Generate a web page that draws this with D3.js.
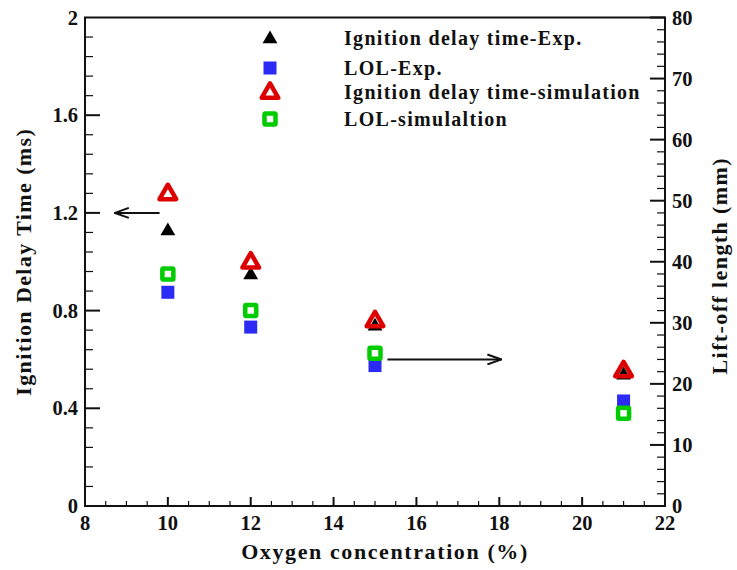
<!DOCTYPE html>
<html>
<head>
<meta charset="utf-8">
<script src="https://cdn.jsdelivr.net/npm/d3@7"></script>
<style>
  html, body { margin: 0; padding: 0; background: #fff; }
  svg text { font-family: "Liberation Serif", "Times New Roman", serif; font-weight: bold; fill: #111; }
</style>
</head>
<body>
<svg id="chart" width="737" height="570"></svg>
<script>
// Oxygen concentration (%)
const oxygen = [10, 12, 15, 21];
// Ignition delay time (ms), left axis
const idtExp = [1.13, 0.95, 0.74, 0.54];
const idtSim = [1.28, 1.00, 0.76, 0.555];
// Lift-off length (mm), right axis
const lolExp = [35, 29.3, 23, 17.2];
const lolSim = [38, 32, 25, 15.2];

const xTicks = [8, 10, 12, 14, 16, 18, 20, 22];
const yLeftTicks = [0, 0.4, 0.8, 1.2, 1.6, 2];
const yRightTicks = [0, 10, 20, 30, 40, 50, 60, 70, 80];

const legendItems = [
  { label: "Ignition delay time-Exp.", kind: "idtExp" },
  { label: "LOL-Exp.", kind: "lolExp" },
  { label: "Ignition delay time-simulation", kind: "idtSim" },
  { label: "LOL-simulaltion", kind: "lolSim" }
];

const svg = d3.select("#chart");
const m = { left: 85, right: 665, top: 17.5, bottom: 506 };

const x = d3.scaleLinear().domain([8, 22]).range([m.left, m.right]);
const yL = d3.scaleLinear().domain([0, 2]).range([m.bottom, m.top]);
const yR = d3.scaleLinear().domain([0, 80]).range([m.bottom, m.top]);

// Frame
svg.append("rect")
  .attr("x", m.left).attr("y", m.top)
  .attr("width", m.right - m.left).attr("height", m.bottom - m.top)
  .attr("fill", "none").attr("stroke", "#111").attr("stroke-width", 2);

const tickG = svg.append("g").attr("stroke", "#111");

// Bottom axis ticks (inward), minor every 0.5
d3.range(8, 22.001, 0.5).forEach(v => {
  const major = Math.abs(v / 2 - Math.round(v / 2)) < 1e-6;
  tickG.append("line")
    .attr("x1", x(v)).attr("x2", x(v))
    .attr("y1", m.bottom).attr("y2", m.bottom - (major ? 9 : 5))
    .attr("stroke-width", major ? 2 : 1.2);
});
// Left axis ticks, minor every 0.08
d3.range(0, 25).forEach(i => {
  const v = i * 0.08;
  const major = i % 5 === 0;
  tickG.append("line")
    .attr("x1", m.left).attr("x2", m.left + (major ? 15 : 8))
    .attr("y1", yL(v)).attr("y2", yL(v))
    .attr("stroke-width", major ? 2 : 1.2);
});
// Right axis ticks, minor every 2
d3.range(0, 41).forEach(i => {
  const v = i * 2;
  const major = i % 5 === 0;
  tickG.append("line")
    .attr("x1", m.right).attr("x2", m.right - (major ? 15 : 8))
    .attr("y1", yR(v)).attr("y2", yR(v))
    .attr("stroke-width", major ? 2 : 1.2);
});

// Tick labels
svg.append("g").selectAll("text").data(xTicks).join("text")
  .attr("x", d => x(d)).attr("y", m.bottom + 24)
  .attr("text-anchor", "middle").attr("font-size", 20.5)
  .text(d => d);
svg.append("g").selectAll("text").data(yLeftTicks).join("text")
  .attr("x", m.left - 7).attr("y", d => yL(d) + 7)
  .attr("text-anchor", "end").attr("font-size", 20.5)
  .text(d => d);
svg.append("g").selectAll("text").data(yRightTicks).join("text")
  .attr("x", m.right + 7).attr("y", d => yR(d) + 7)
  .attr("text-anchor", "start").attr("font-size", 20.5)
  .text(d => d);

// Axis titles
svg.append("text")
  .attr("x", (m.left + m.right) / 2 + 10).attr("y", 559)
  .attr("text-anchor", "middle").attr("font-size", 22)
  .attr("letter-spacing", 1.6)
  .text("Oxygen concentration (%)");
svg.append("text")
  .attr("transform", `translate(31,${(m.top + m.bottom) / 2}) rotate(-90)`)
  .attr("text-anchor", "middle").attr("font-size", 22)
  .attr("letter-spacing", 1.4)
  .text("Ignition Delay Time (ms)");
svg.append("text")
  .attr("transform", `translate(727,${(m.top + m.bottom) / 2 + 4}) rotate(-90)`)
  .attr("text-anchor", "middle").attr("font-size", 22)
  .attr("letter-spacing", 1.4)
  .text("Lift-off length (mm)");

// Marker painters
const tri = (s) => d3.symbol().type(d3.symbolTriangle).size(s)();
function drawMarker(g, kind, cx, cy) {
  if (kind === "idtExp") {
    g.append("path").attr("d", tri(95))
      .attr("transform", `translate(${cx},${cy + 1})`)
      .attr("fill", "#000");
  } else if (kind === "idtSim") {
    g.append("path").attr("d", tri(120))
      .attr("transform", `translate(${cx},${cy + 1})`)
      .attr("fill", "none").attr("stroke", "#dd0000")
      .attr("stroke-width", 4.5).attr("stroke-linejoin", "round");
  } else if (kind === "lolExp") {
    g.append("rect").attr("x", cx - 6.5).attr("y", cy - 6.5)
      .attr("width", 13).attr("height", 13).attr("fill", "#2b2bf5");
  } else if (kind === "lolSim") {
    g.append("rect").attr("x", cx - 5.5).attr("y", cy - 5.5)
      .attr("width", 11).attr("height", 11)
      .attr("fill", "#fff").attr("stroke", "#00cc00")
      .attr("stroke-width", 4.5).attr("rx", 1);
  }
}

// Data markers (experiment first, simulation on top)
const pts = svg.append("g");
oxygen.forEach((o, i) => drawMarker(pts, "lolExp", x(o), yR(lolExp[i])));
oxygen.forEach((o, i) => drawMarker(pts, "idtExp", x(o), yL(idtExp[i])));
oxygen.forEach((o, i) => drawMarker(pts, "lolSim", x(o), yR(lolSim[i])));
oxygen.forEach((o, i) => drawMarker(pts, "idtSim", x(o), yL(idtSim[i])));

// Arrows pointing to the matching axis (open chevron heads)
const defs = svg.append("defs");
defs.append("marker").attr("id", "head")
  .attr("viewBox", "0 0 16 12").attr("refX", 15).attr("refY", 6)
  .attr("markerWidth", 16).attr("markerHeight", 12)
  .attr("markerUnits", "userSpaceOnUse").attr("orient", "auto")
  .append("path").attr("d", "M1,1 L15,6 L1,11")
  .attr("fill", "none").attr("stroke", "#111").attr("stroke-width", 2);

svg.append("line")
  .attr("x1", x(9.8)).attr("x2", x(8.72))
  .attr("y1", yL(1.2)).attr("y2", yL(1.2))
  .attr("stroke", "#111").attr("stroke-width", 2)
  .attr("marker-end", "url(#head)");
svg.append("line")
  .attr("x1", x(15.3)).attr("x2", x(18.05))
  .attr("y1", yR(24)).attr("y2", yR(24))
  .attr("stroke", "#111").attr("stroke-width", 2)
  .attr("marker-end", "url(#head)");

// Legend
const legend = svg.append("g");
const legendY = [38, 68, 92, 119];
legendItems.forEach((d, i) => {
  drawMarker(legend, d.kind, 270, legendY[i]);
  legend.append("text")
    .attr("x", 344).attr("y", legendY[i] + 7)
    .attr("font-size", 20)
    .attr("letter-spacing", 1.3)
    .text(d.label);
});
</script>
</body>
</html>
